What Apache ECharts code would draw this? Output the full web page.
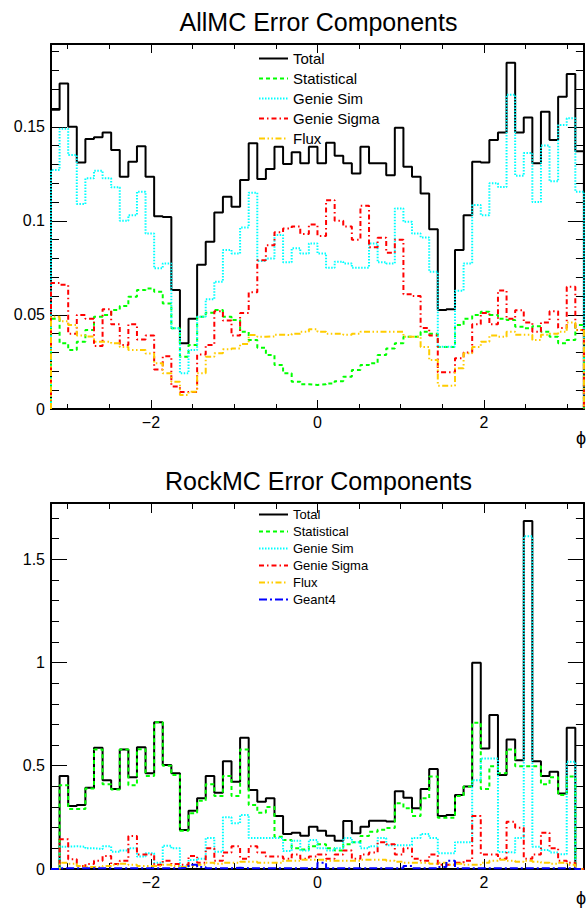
<!DOCTYPE html>
<html><head><meta charset="utf-8">
<script src="https://cdn.jsdelivr.net/npm/echarts@6/dist/echarts.min.js"></script>
<style>html,body{margin:0;padding:0;background:#fff}#c{width:587px;height:912px}</style>
</head><body><div id="c"></div>
<script>
// ---- histogram range: 62 bins from -3.2 to 3.2 ----
const X_MIN = -3.2, X_MAX = 3.2;
const xMajorTicks = [-2, 0, 2];
const xMinorTicks = [-3, -2.5, -2, -1.5, -1, -0.5, 0, 0.5, 1, 1.5, 2, 2.5, 3];

// ---- AllMC panel ----
const allYMax = 0.194;
const allYLabels = [0, 0.05, 0.1, 0.15];
const allTotal = [0.159,0.173,0.150,0.131,0.1435,0.1444,0.147,0.1376,0.1234,0.1314,
  0.1397,0.1234,0.1025,0.102,0.0632,0.0349,0.048,0.0767,0.0889,0.1045,
  0.1128,0.1075,0.1217,0.1412,0.1222,0.1275,0.1394,0.1302,0.1364,0.1306,
  0.1394,0.1306,0.1415,0.1346,0.1306,0.1252,0.1394,0.1306,0.1306,0.1243,
  0.1495,0.1288,0.1234,0.1146,0.0956,0.0526,0.053,0.0845,0.103,0.1314,
  0.131,0.143,0.147,0.184,0.147,0.155,0.1306,0.158,0.143,0.166,0.178,0.137];
const allStat = [0.048,0.035,0.0313,0.0358,0.042,0.049,0.050,0.0526,0.0547,0.0597,
  0.0632,0.0641,0.0623,0.0561,0.0429,0.0278,0.034,0.049,0.0512,0.0526,
  0.049,0.0473,0.041,0.0367,0.0326,0.0287,0.0234,0.019,0.0145,0.0131,
  0.0128,0.0131,0.0136,0.0148,0.0172,0.0207,0.0234,0.0243,0.0287,0.0322,
  0.035,0.0384,0.0384,0.041,0.040,0.033,0.033,0.0446,0.048,0.050,
  0.0517,0.050,0.048,0.0473,0.0437,0.0429,0.044,0.041,0.0384,0.035,0.0367,0.0446];
const allGenieSim = [0.127,0.149,0.135,0.109,0.1226,0.1266,0.1226,0.1178,0.100,0.103,
  0.1155,0.0933,0.0748,0.0774,0.0429,0.019,0.0313,0.049,0.0583,0.0677,
  0.0845,0.0827,0.0965,0.115,0.0786,0.080,0.0925,0.078,0.0854,0.0827,
  0.088,0.0827,0.0751,0.0783,0.0774,0.0751,0.0751,0.088,0.078,0.0774,
  0.1066,0.0995,0.0933,0.0912,0.073,0.0331,0.0331,0.0629,0.0774,0.1084,
  0.103,0.12,0.118,0.167,0.124,0.136,0.110,0.14,0.121,0.151,0.1545,0.1155];
const allGenieSigma = [0.067,0.066,0.04,0.05,0.048,0.0335,0.053,0.045,0.034,0.045,
  0.037,0.039,0.021,0.028,0.012,0.009,0.009,0.029,0.034,0.052,
  0.047,0.039,0.051,0.062,0.079,0.087,0.094,0.096,0.097,0.093,
  0.098,0.092,0.111,0.1,0.097,0.09,0.108,0.086,0.091,0.083,
  0.09,0.061,0.06,0.043,0.039,0.0195,0.0195,0.027,0.03,0.045,
  0.051,0.045,0.063,0.048,0.0525,0.046,0.041,0.046,0.052,0.043,0.065,0.042];
const allFlux = [0.049,0.0467,0.0446,0.039,0.0385,0.0358,0.0358,0.035,0.033,0.0313,
  0.0313,0.0295,0.0243,0.019,0.0145,0.0074,0.0092,0.019,0.0278,0.0296,
  0.0317,0.0322,0.0345,0.0393,0.0384,0.0386,0.0395,0.0393,0.040,0.0411,
  0.0424,0.041,0.040,0.040,0.0395,0.040,0.041,0.041,0.041,0.041,
  0.041,0.0384,0.0384,0.033,0.026,0.0124,0.0124,0.0216,0.0296,0.033,
  0.0358,0.039,0.0384,0.041,0.0395,0.0395,0.0367,0.0395,0.040,0.041,0.046,0.042];

// ---- RockMC panel ----
const rockYMax = 1.772;
const rockYLabels = [0, 0.5, 1, 1.5];
const rockTotal = [0,0.45,0.305,0.31,0.393,0.587,0.43,0.387,0.579,0.444,
  0.589,0.463,0.71,0.503,0.463,0.189,0.282,0.342,0.45,0.369,
  0.522,0.422,0.635,0.382,0.326,0.342,0.256,0.169,0.176,0.161,
  0.205,0.185,0.161,0.137,0.232,0.173,0.205,0.234,0.234,0.23,
  0.377,0.345,0.294,0.387,0.484,0.256,0.261,0.358,0.40,0.998,
  0.584,0.745,0.455,0.627,0.527,1.685,0.522,0.45,0.471,0.366,0.684,0];
const rockStat = [0,0.406,0.29,0.29,0.39,0.579,0.41,0.385,0.579,0.406,
  0.58,0.45,0.71,0.5,0.455,0.185,0.27,0.33,0.41,0.353,
  0.45,0.353,0.579,0.31,0.272,0.3,0.156,0.14,0.1,0.095,
  0.11,0.12,0.1,0.09,0.12,0.13,0.16,0.18,0.19,0.198,
  0.318,0.294,0.257,0.342,0.448,0.248,0.248,0.353,0.4,0.708,
  0.387,0.498,0.463,0.579,0.498,0.498,0.498,0.41,0.444,0.358,0.448,0];
const rockGenieSim = [0,0.108,0.11,0.108,0.1,0.097,0.11,0.084,0.09,0.1,
  0.06,0.076,0.03,0.113,0.1,0.012,0.044,0.05,0.15,0.084,
  0.25,0.222,0.262,0.15,0.15,0.15,0.15,0.087,0.137,0.09,
  0.14,0.1,0.09,0.1,0.15,0.13,0.1,0.11,0.15,0.115,
  0.115,0.115,0.15,0.17,0.15,0.076,0.076,0.13,0.13,0.43,
  0.535,0.535,0.082,0.08,0.15,1.611,0.108,0.092,0.08,0.071,0.519,0];
const rockGenieSigma = [0,0.144,0.047,0.015,0.024,0.04,0.063,0.024,0.04,0.16,
  0.07,0.07,0.02,0.04,0.024,0.02,0.063,0.03,0.1,0.04,
  0.08,0.11,0.05,0.11,0.08,0.06,0.06,0.05,0.07,0.05,
  0.06,0.07,0.05,0.07,0.09,0.05,0.07,0.08,0.13,0.12,
  0.07,0.1,0.05,0.04,0.07,0.02,0.02,0.03,0.04,0.256,
  0.07,0.07,0.05,0.229,0.2,0.05,0.07,0.176,0.1,0.04,0.03,0];
const rockFlux = [0,0.03,0.025,0.015,0.01,0.01,0.015,0.02,0.025,0.02,
  0.015,0.015,0.015,0.02,0.015,0.01,0.015,0.02,0.03,0.025,
  0.03,0.03,0.035,0.035,0.03,0.03,0.03,0.04,0.04,0.045,
  0.045,0.045,0.04,0.04,0.04,0.04,0.045,0.045,0.045,0.04,
  0.035,0.03,0.03,0.03,0.025,0.03,0.02,0.025,0.02,0.02,
  0.03,0.04,0.045,0.04,0.035,0.04,0.035,0.03,0.025,0.03,0.02,0];
const rockGeant4 = [0,0.004,0.004,0.004,0.004,0.004,0.004,0.004,0.004,0.004,
  0.004,0.004,0.004,0.004,0.004,0.006,0.02,0.01,0.004,0.004,
  0.004,0.006,0.004,0.004,0.004,0.004,0.004,0.004,0.004,0.004,
  0.004,0.03,0.004,0.004,0.004,0.004,0.004,0.004,0.004,0.004,
  0.004,0.015,0.004,0.004,0.004,0.01,0.04,0.004,0.004,0.004,
  0.004,0.004,0.004,0.004,0.004,0.004,0.004,0.004,0.004,0.004,0.004,0];

const FONT = '"Liberation Sans", Arial, Helvetica, sans-serif';
const STYLES = {
  'Total':       {color:'#000000', type:'solid'},
  'Statistical': {color:'#00ff00', type:[4,3]},
  'Genie Sim':   {color:'#00ffff', type:[1.5,1.5]},
  'Genie Sigma': {color:'#ff0000', type:[5,3,1.5,3]},
  'Flux':        {color:'#ffcc00', type:[6,2.5,1.5,2.5,1.5,2.5]},
  'Geant4':      {color:'#0000ff', type:[8,3,2,3]}
};

function steps(vals){
  const w = (X_MAX - X_MIN) / vals.length;
  const pts = [[X_MIN, 0]];
  vals.forEach((v, i) => { pts.push([X_MIN + i*w, v], [X_MIN + (i+1)*w, v]); });
  pts.push([X_MAX, 0]);
  return pts;
}
function seq(a, b, s){ const r=[]; for(let k=0; a+k*s <= b+1e-9; k++) r.push(Math.round((a+k*s)*1e6)/1e6); return r; }
function fmt(v){ v = Math.round(v*1e6)/1e6; return v < 0 ? '\u2212' + Math.abs(v) : String(v); }

const tickLine = {color:'#000', width:1};
function xAxesFor(gi, majLen, minLen, name){
  return [
    {type:'value', gridIndex:gi, position:'bottom', min:X_MIN, max:X_MAX,
     axisLine:{show:true, onZero:false, lineStyle:{color:'#000', width:2}},
     axisTick:{show:true, inside:true, length:minLen, customValues:xMinorTicks, lineStyle:tickLine},
     axisLabel:{show:true, customValues:xMajorTicks, formatter:fmt, margin:5,
       fontSize:16, fontFamily:FONT, color:'#000'},
     splitLine:{show:false},
     name:name, nameLocation:'end', nameGap:-8,
     nameTextStyle:{fontSize:18, fontFamily:FONT, color:'#000', verticalAlign:'top', padding:[20,0,0,0]}},
    {type:'value', gridIndex:gi, position:'bottom', min:X_MIN, max:X_MAX,
     axisLine:{show:false, onZero:false},
     axisTick:{show:true, inside:true, length:majLen, customValues:xMajorTicks, lineStyle:tickLine},
     axisLabel:{show:false}, splitLine:{show:false}},
    {type:'value', gridIndex:gi, position:'top', min:X_MIN, max:X_MAX,
     axisLine:{show:true, onZero:false, lineStyle:{color:'#000', width:2}},
     axisTick:{show:true, inside:true, length:minLen, customValues:xMinorTicks, lineStyle:tickLine},
     axisLabel:{show:false}, splitLine:{show:false}},
    {type:'value', gridIndex:gi, position:'top', min:X_MIN, max:X_MAX,
     axisLine:{show:false, onZero:false},
     axisTick:{show:true, inside:true, length:majLen, customValues:xMajorTicks, lineStyle:tickLine},
     axisLabel:{show:false}, splitLine:{show:false}}
  ];
}
function yAxesFor(gi, ymax, labels, minorStep){
  const minor = seq(0, ymax, minorStep);
  const mk = (pos, ticks, len, line, lab) => ({
    type:'value', gridIndex:gi, position:pos, min:0, max:ymax,
    axisLine:{show:line, onZero:false, lineStyle:{color:'#000', width:2}},
    axisTick:{show:true, inside:true, length:len, customValues:ticks, lineStyle:tickLine},
    axisLabel: lab ? {show:true, customValues:labels, formatter:fmt, margin:6,
      fontSize:16, fontFamily:FONT, color:'#000'} : {show:false},
    splitLine:{show:false}
  });
  return [mk('left', minor, 8, true, true), mk('left', labels, 16, false, false),
          mk('right', minor, 8, true, false), mk('right', labels, 16, false, false)];
}
function seriesFor(axisBase, named){
  return named.map(([name, vals]) => ({
    name, type:'line', xAxisIndex:axisBase, yAxisIndex:axisBase,
    data: steps(vals), showSymbol:false, symbol:'none', animation:false, silent:true,
    lineStyle:{color:STYLES[name].color, width:2, type:STYLES[name].type},
    itemStyle:{color:STYLES[name].color}
  }));
}
const legendItemStyle = {color:'rgba(0,0,0,0)', borderColor:'rgba(0,0,0,0)', borderWidth:0, opacity:0};

const chart = echarts.init(document.getElementById('c'), null, {renderer:'svg'});
chart.setOption({
  backgroundColor:'#fff',
  animation:false,
  title:[
    {text:'AllMC Error Components', left:318.5, textAlign:'center', top:9, padding:0,
     textStyle:{fontSize:25, fontWeight:'normal', fontFamily:FONT, color:'#000'}},
    {text:'RockMC Error Components', left:318.5, textAlign:'center', top:468, padding:0,
     textStyle:{fontSize:25, fontWeight:'normal', fontFamily:FONT, color:'#000'}}
  ],
  legend:[
    {data:['Total','Statistical','Genie Sim','Genie Sigma','Flux'], orient:'vertical',
     left:258, top:51, itemWidth:29, itemHeight:14, itemGap:5, padding:0, selectedMode:false,
     itemStyle:legendItemStyle,
     textStyle:{fontSize:15, fontFamily:FONT, color:'#000'}},
    {data:['Total','Statistical','Genie Sim','Genie Sigma','Flux','Geant4'], orient:'vertical',
     left:258, top:508, itemWidth:29, itemHeight:12, itemGap:4, padding:0, selectedMode:false,
     itemStyle:legendItemStyle,
     textStyle:{fontSize:13, fontFamily:FONT, color:'#000'}}
  ],
  grid:[
    {left:51, top:44, width:535, height:365},
    {left:51, top:503, width:535, height:366}
  ],
  xAxis:[...xAxesFor(0, 9, 5, 'ϕ'), ...xAxesFor(1, 10, 6, 'ϕ')],
  yAxis:[...yAxesFor(0, allYMax, allYLabels, 0.01), ...yAxesFor(1, rockYMax, rockYLabels, 0.1)],
  series:[
    ...seriesFor(0, [['Total',allTotal],['Statistical',allStat],['Genie Sim',allGenieSim],
                     ['Genie Sigma',allGenieSigma],['Flux',allFlux]]),
    ...seriesFor(4, [['Total',rockTotal],['Statistical',rockStat],['Genie Sim',rockGenieSim],
                     ['Genie Sigma',rockGenieSigma],['Flux',rockFlux],['Geant4',rockGeant4]])
  ]
});
</script></body></html>
